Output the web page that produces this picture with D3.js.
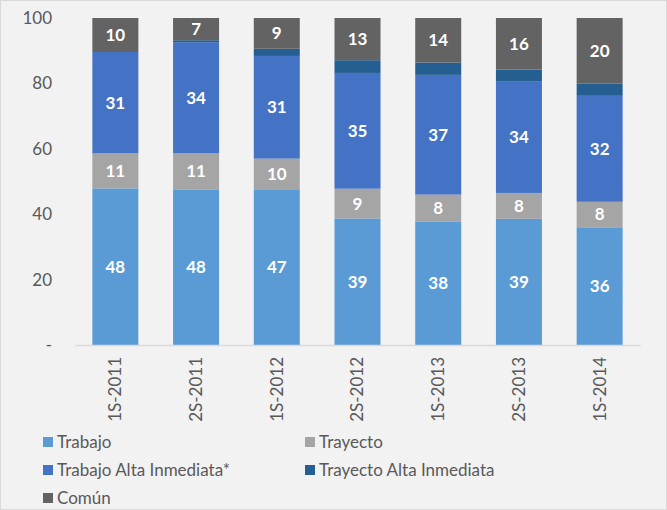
<!DOCTYPE html>
<html>
<head>
<meta charset="utf-8">
<script src="https://cdn.jsdelivr.net/npm/d3@7"></script>
<style>
  html, body { margin: 0; padding: 0; background: #f2f2f2; }
  svg { display: block; font-family: Lato, "Open Sans", sans-serif; }
</style>
</head>
<body>
<div id="chart"></div>
<script>
// Data
const periods = ["1S-2011", "2S-2011", "1S-2012", "2S-2012", "1S-2013", "2S-2013", "1S-2014"];
const seriesNames = ["Trabajo", "Trayecto", "Trabajo Alta Inmediata*", "Trayecto Alta Inmediata", "Común"];
const trabajo = [47.9, 47.6, 47.4, 38.7, 37.8, 38.6, 36.0];
const trayecto = [10.7, 11.0, 9.6, 9.1, 8.2, 7.9, 7.8];
const trabajoAlta = [31.0, 34.0, 31.4, 35.4, 36.6, 34.2, 32.4];
const trayectoAlta = [0.0, 0.6, 2.2, 3.9, 3.8, 3.5, 3.8];
const comun = [10.4, 6.8, 9.4, 12.9, 13.6, 15.8, 20.0];
const yTicks = [0, 20, 40, 60, 80, 100];
const colors = ["#5b9bd5", "#a5a5a5", "#4472c4", "#255e91", "#636363"];
const showLabels = [true, true, true, false, true];

const width = 667, height = 510;
const margin = { top: 18, right: 27, bottom: 165, left: 75 };

const svg = d3.select('#chart')
    .append('svg')
    .attr('width', width)
    .attr('height', height);

svg.append('rect')
    .attr('x', 0.5).attr('y', 0.5)
    .attr('width', width - 1).attr('height', height - 1)
    .attr('fill', '#f2f2f2')
    .attr('stroke', '#d9d9d9');

// Build table for stacking
const allSeries = [trabajo, trayecto, trabajoAlta, trayectoAlta, comun];
const table = periods.map((p, i) => {
    const row = { period: p };
    seriesNames.forEach((s, j) => { row[s] = allSeries[j][i]; });
    return row;
});
const stacked = d3.stack().keys(seriesNames)(table);

// Scales
const x = d3.scaleBand()
    .domain(periods)
    .range([margin.left, width - margin.right])
    .paddingInner(0.43)
    .paddingOuter(0.215);

const y = d3.scaleLinear()
    .domain([0, 100])
    .range([height - margin.bottom, margin.top]);

// Bars
const layers = svg.selectAll('.layer')
    .data(stacked)
    .enter().append('g')
    .attr('class', 'layer')
    .attr('fill', (d, i) => colors[i]);

layers.selectAll('rect')
    .data(d => d)
    .enter().append('rect')
    .attr('x', d => x(d.data.period))
    .attr('y', d => y(d[1]))
    .attr('width', x.bandwidth())
    .attr('height', d => y(d[0]) - y(d[1]));

// Data labels
stacked.forEach((layer, i) => {
    if (!showLabels[i]) return;
    svg.append('g')
        .selectAll('text')
        .data(layer)
        .enter().append('text')
        .attr('x', d => x(d.data.period) + x.bandwidth() / 2)
        .attr('y', d => y((d[0] + d[1]) / 2))
        .attr('dy', '0.35em')
        .attr('text-anchor', 'middle')
        .attr('fill', '#ffffff')
        .attr('font-weight', 'bold')
        .attr('font-size', 17)
        .text(d => Math.round(d[1] - d[0]));
});

// Y axis
const yAxis = svg.append('g')
    .attr('transform', `translate(${margin.left},0)`)
    .call(d3.axisLeft(y).tickValues(yTicks).tickSize(0).tickPadding(23)
        .tickFormat(d => d === 0 ? '-' : d));
yAxis.select('.domain').remove();
yAxis.selectAll('text')
    .attr('fill', '#595959')
    .attr('font-size', 17)
    .attr('font-family', 'Lato, sans-serif');

// X axis
const xAxis = svg.append('g')
    .attr('transform', `translate(0,${height - margin.bottom})`)
    .call(d3.axisBottom(x).tickSize(0));
xAxis.select('.domain').attr('stroke', '#d9d9d9').attr('stroke-width', 1.5);
xAxis.selectAll('text')
    .attr('fill', '#595959')
    .attr('font-size', 17)
    .attr('font-family', 'Lato, sans-serif')
    .attr('transform', 'rotate(-90)')
    .attr('text-anchor', 'end')
    .attr('x', -12)
    .attr('y', 0)
    .attr('dy', '0.35em');

// Legend
const legendPos = [
    { x: 43, y: 442 }, { x: 305, y: 442 },
    { x: 43, y: 470 }, { x: 305, y: 470 },
    { x: 43, y: 498 }
];
const legend = svg.append('g')
    .selectAll('g')
    .data(seriesNames)
    .enter().append('g')
    .attr('transform', (d, i) => `translate(${legendPos[i].x},${legendPos[i].y})`);

legend.append('rect')
    .attr('x', 0).attr('y', -5)
    .attr('width', 10).attr('height', 10)
    .attr('fill', (d, i) => colors[i]);

legend.append('text')
    .attr('x', 14)
    .attr('dy', '0.35em')
    .attr('fill', '#595959')
    .attr('font-size', 17)
    .text(d => d);
</script>
</body>
</html>
